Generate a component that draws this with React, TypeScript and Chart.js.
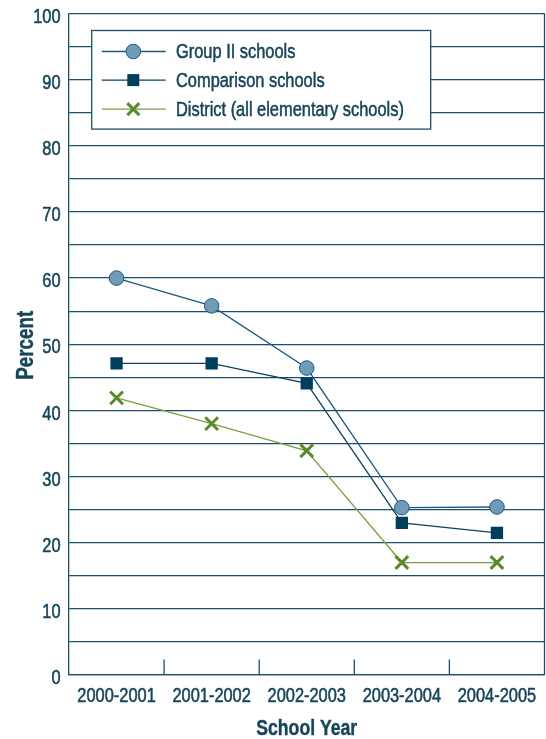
import React, { useEffect, useRef } from "react";
import { Chart, registerables } from "chart.js";

Chart.register(...registerables);

const categories = ["2000-2001", "2001-2002", "2002-2003", "2003-2004", "2004-2005"];
const groupII = [60, 55.8, 46.4, 25.3, 25.4];
const comparison = [47.1, 47.1, 44.1, 23.0, 21.5];
const district = [41.9, 38.0, 33.9, 17.0, 17.0];
const seriesNames = ["Group II schools", "Comparison schools", "District (all elementary schools)"];
const yTitle = "Percent";
const xTitle = "School Year";

const FAMILY = "'Liberation Sans', Arial, sans-serif";
const NARROW = 0.82;
const TEXT = "#17455a";
const GRID = "#1c4e6c";

function narrowText(
  ctx: CanvasRenderingContext2D,
  text: string,
  x: number,
  y: number,
  font: string,
  align: CanvasTextAlign,
  rotate = 0,
  thicken = 0.55
) {
  ctx.save();
  ctx.translate(x, y);
  if (rotate) ctx.rotate(rotate);
  ctx.scale(NARROW, 1);
  ctx.font = font;
  ctx.fillStyle = TEXT;
  ctx.strokeStyle = TEXT;
  ctx.lineWidth = thicken;
  ctx.lineJoin = "round";
  ctx.textAlign = align;
  ctx.textBaseline = "alphabetic";
  ctx.fillText(text, 0, 0);
  if (thicken > 0) ctx.strokeText(text, 0, 0);
  ctx.restore();
}

const decorPlugin = {
  id: "decor",
  beforeDatasetsDraw(chart: any) {
    const { ctx, chartArea } = chart;
    const x0 = chartArea.left + 22.7;
    const y0 = chartArea.top + 17;
    const w = 339;
    const h = 98.6;
    ctx.save();
    ctx.fillStyle = "#ffffff";
    ctx.fillRect(x0, y0, w, h);
    ctx.strokeStyle = GRID;
    ctx.lineWidth = 1.3;
    ctx.strokeRect(x0, y0, w, h);
    const rows = [y0 + 21, y0 + 49.6, y0 + 78.6];
    chart.data.datasets.forEach((ds: any, i: number) => {
      const y = rows[i];
      ctx.strokeStyle = ds.borderColor;
      ctx.lineWidth = 1.3;
      ctx.beginPath();
      ctx.moveTo(x0 + 10, y);
      ctx.lineTo(x0 + 74, y);
      ctx.stroke();
      const cx = x0 + 41.6;
      if (i === 0) {
        ctx.beginPath();
        ctx.arc(cx, y, 7.3, 0, Math.PI * 2);
        ctx.fillStyle = ds.pointBackgroundColor;
        ctx.fill();
        ctx.strokeStyle = ds.pointBorderColor;
        ctx.lineWidth = 1;
        ctx.stroke();
      } else if (i === 1) {
        ctx.fillStyle = ds.pointBackgroundColor;
        ctx.fillRect(cx - 6, y - 6, 12, 12);
      } else {
        ctx.strokeStyle = ds.pointBorderColor;
        ctx.lineWidth = 3;
        ctx.beginPath();
        ctx.moveTo(cx - 6, y - 6);
        ctx.lineTo(cx + 6, y + 6);
        ctx.moveTo(cx + 6, y - 6);
        ctx.lineTo(cx - 6, y + 6);
        ctx.stroke();
      }
      narrowText(ctx, ds.label, x0 + 84.3, y + 6.5, `20px ${FAMILY}`, "left");
    });
    ctx.restore();
  },
  afterDraw(chart: any) {
    const { ctx, chartArea, scales } = chart;
    const xs = scales.x;
    const ys = scales.y;
    ctx.save();
    ctx.strokeStyle = GRID;
    ctx.lineWidth = 1.3;
    ctx.beginPath();
    ctx.moveTo(chartArea.right, chartArea.top);
    ctx.lineTo(chartArea.right, chartArea.bottom);
    for (let i = 1; i < categories.length; i++) {
      const x = (xs.getPixelForValue(i - 1) + xs.getPixelForValue(i)) / 2;
      ctx.moveTo(x, chartArea.bottom - 15.5);
      ctx.lineTo(x, chartArea.bottom);
    }
    ctx.stroke();
    ctx.restore();

    xs.ticks.forEach((t: any, i: number) => {
      const x = xs.getPixelForTick(i);
      narrowText(ctx, String(xs.getLabelForValue(t.value)), x, chartArea.bottom + 27.3, `20px ${FAMILY}`, "center");
    });
    ys.ticks.forEach((t: any) => {
      if (t.value % 10 !== 0) return;
      const y = ys.getPixelForValue(t.value);
      narrowText(ctx, String(t.value), chartArea.left - 8.5, y + 9.2, `20px ${FAMILY}`, "right");
    });
    narrowText(ctx, xTitle, (chartArea.left + chartArea.right) / 2, 735, `bold 21.5px ${FAMILY}`, "center", 0, 0.4);
    narrowText(ctx, yTitle, 33, (chartArea.top + chartArea.bottom) / 2 + 1, `bold 23px ${FAMILY}`, "center", -Math.PI / 2, 0.4);
  },
};

export default function App() {
  const ref = useRef<HTMLCanvasElement>(null);
  useEffect(() => {
    if (!ref.current) return;
    const chart = new Chart(ref.current, {
      type: "line",
      data: {
        labels: categories,
        datasets: [
          {
            label: seriesNames[0],
            data: groupII,
            borderColor: "#1f5a7e",
            borderWidth: 1.3,
            pointStyle: "circle",
            pointRadius: 7.3,
            pointBackgroundColor: "#6f9bb8",
            pointBorderColor: "#1f5a7e",
            pointBorderWidth: 1,
          },
          {
            label: seriesNames[1],
            data: comparison,
            borderColor: "#0f4262",
            borderWidth: 1.3,
            pointStyle: "rect",
            pointRadius: 8.7,
            pointBackgroundColor: "#003e5e",
            pointBorderColor: "#003e5e",
            pointBorderWidth: 0,
          },
          {
            label: seriesNames[2],
            data: district,
            borderColor: "#7a9e45",
            borderWidth: 1.3,
            pointStyle: "crossRot",
            pointRadius: 9,
            pointBackgroundColor: "#5a8a2a",
            pointBorderColor: "#5a8a2a",
            pointBorderWidth: 3,
          },
        ],
      },
      options: {
        animation: false,
        responsive: true,
        maintainAspectRatio: false,
        layout: { autoPadding: false, padding: { top: 13.5, right: 1.5, left: 0, bottom: 0 } },
        plugins: { legend: { display: false }, tooltip: { enabled: false } },
        scales: {
          x: {
            offset: true,
            grid: { display: true, drawOnChartArea: false, drawTicks: false },
            border: { display: true, color: GRID, width: 1.3 },
            ticks: { display: false, autoSkip: false },
            afterFit: (s: any) => { s.height = 64; },
          },
          y: {
            min: 0,
            max: 100,
            ticks: { display: false, stepSize: 5 },
            grid: { color: GRID, lineWidth: 1.3, drawTicks: false },
            border: { display: true, color: GRID, width: 1.3 },
            afterFit: (s: any) => { s.width = 69; },
          },
        },
      },
      plugins: [decorPlugin],
    });
    return () => chart.destroy();
  }, []);
  return (
    <div style={{ position: "fixed", left: 0, top: 0, width: 546, height: 739, background: "#fff" }}>
      <canvas ref={ref} />
    </div>
  );
}
